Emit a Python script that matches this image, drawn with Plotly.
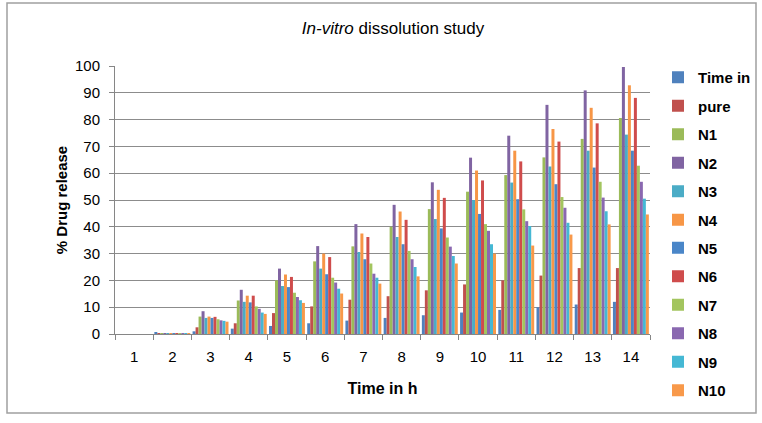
import plotly.graph_objects as go

categories = [str(i) for i in range(1, 15)]

time_in = [0, 0.5, 1, 2, 3, 4, 5, 6, 7, 8, 9, 10, 11, 12]
pure = [0, 0.3, 2.5, 4, 7.8, 10.3, 12.8, 14.1, 16.3, 18.5, 20, 21.8, 24.6, 24.6]
n1 = [0, 0.3, 6.5, 12.5, 20, 27.1, 32.7, 40, 46.6, 53.1, 59.3, 65.9, 72.8, 80.6]
n2 = [0, 0.3, 8.5, 16.5, 24.4, 32.8, 41, 48.2, 56.6, 65.8, 74, 85.5, 90.9, 99.6]
n3 = [0, 0.3, 6, 12, 17.9, 24.4, 30.6, 36.2, 42.9, 50, 56.5, 62.5, 68.4, 74.4]
n4 = [0, 0.3, 6.5, 14.3, 22.2, 30, 37.5, 45.7, 53.8, 61, 68.4, 76.5, 84.4, 92.8]
n5 = [0, 0.3, 6, 11.8, 17.5, 22.3, 27.9, 33.5, 39.4, 44.8, 50.3, 55.9, 62.1, 68.4]
n6 = [0, 0.3, 6.4, 14.3, 21.3, 28.7, 36.2, 42.6, 50.8, 57.3, 64.4, 71.8, 78.6, 88.1]
n7 = [0, 0.3, 5.5, 10.3, 15.4, 21, 26.3, 31, 36, 41, 46.5, 51.1, 56.8, 62.8]
n8 = [0, 0.3, 5.1, 9.4, 13.8, 19.2, 22.5, 27.9, 32.6, 38.5, 42.1, 47.1, 50.9, 56.8]
n9 = [0, 0.3, 4.9, 8, 12.6, 16.9, 21, 25, 29.1, 33.5, 40.3, 41.5, 45.8, 50.5]
n10 = [0, 0.3, 4.6, 7.5, 11.6, 15.1, 18.8, 21.5, 26.3, 30, 33, 37.1, 40.9, 44.6]

series_names = ["Time in", "pure", "N1", "N2", "N3", "N4", "N5", "N6", "N7", "N8", "N9", "N10"]
series_values = [time_in, pure, n1, n2, n3, n4, n5, n6, n7, n8, n9, n10]
colors = ["#4F81BD", "#C0504D", "#9BBB59", "#8064A2", "#4BACC6", "#F79646",
          "#4A86C8", "#CF4C4C", "#A3C55F", "#8A68B0", "#45B8D4", "#F8994A"]

fig = go.Figure()
for i, (name, vals, col) in enumerate(zip(series_names, series_values, colors)):
    fig.add_trace(go.Bar(x=categories, y=vals, name=name, marker_color=col,
                         marker_line_width=0, legendgroup=name,
                         legend="legend" if i < 6 else "legend2"))

W, H = 762, 423
ml, mr, mt, mb = 115, 112, 66, 89
pw, ph = W - ml - mr, H - mt - mb

def px_x(p):
    return (p - ml) / pw

def px_y(p):
    return (H - mb - p) / ph

item_step = 28.4
legend_style = dict(xanchor="left", yanchor="top", tracegroupgap=6,
                    font=dict(size=15, color="black", weight="bold"),
                    bgcolor="rgba(0,0,0,0)", itemwidth=30, traceorder="grouped")

fig.update_layout(
    width=W, height=H,
    margin=dict(l=ml, r=mr, t=mt, b=mb, autoexpand=False),
    paper_bgcolor="white", plot_bgcolor="white",
    barmode="group", bargap=0.06, bargroupgap=0,
    font=dict(family="Liberation Sans, Arial, sans-serif", color="black", size=15),
    title=dict(text="<i>In-vitro</i> dissolution study", xref="container", yref="container",
               x=393 / W, y=1 - 28 / H, xanchor="center", yanchor="middle",
               font=dict(size=17, color="black")),
    legend=dict(x=px_x(658), y=px_y(61), **legend_style),
    legend2=dict(x=px_x(658), y=px_y(61 + 6 * item_step), **legend_style),
    showlegend=True,
)
fig.update_xaxes(type="category", tickson="boundaries", ticks="outside", ticklen=5,
                 tickcolor="#868686", showline=True, linecolor="#868686", linewidth=1,
                 tickfont=dict(size=15), showgrid=False, ticklabelstandoff=9,
                 title=dict(text="<b>Time in h</b>", font=dict(size=16), standoff=18))
fig.update_yaxes(range=[0, 100], dtick=10, ticks="outside", ticklen=5, tickcolor="#868686",
                 showline=True, linecolor="#868686", linewidth=1,
                 showgrid=True, gridcolor="#8C8C8C", gridwidth=1.3,
                 tickfont=dict(size=15), zeroline=False, ticklabelstandoff=6,
                 title=dict(text="<b>% Drug release</b>", font=dict(size=15), standoff=3))

fig.add_shape(type="rect", xref="paper", yref="paper",
              x0=px_x(7), x1=px_x(756), y0=px_y(413), y1=px_y(3),
              line=dict(color="#A0A0A0", width=1.5), fillcolor="rgba(0,0,0,0)", layer="below")

fig.write_html("out.html", config={"displayModeBar": False},
               post_script="document.body.style.margin='0';")
